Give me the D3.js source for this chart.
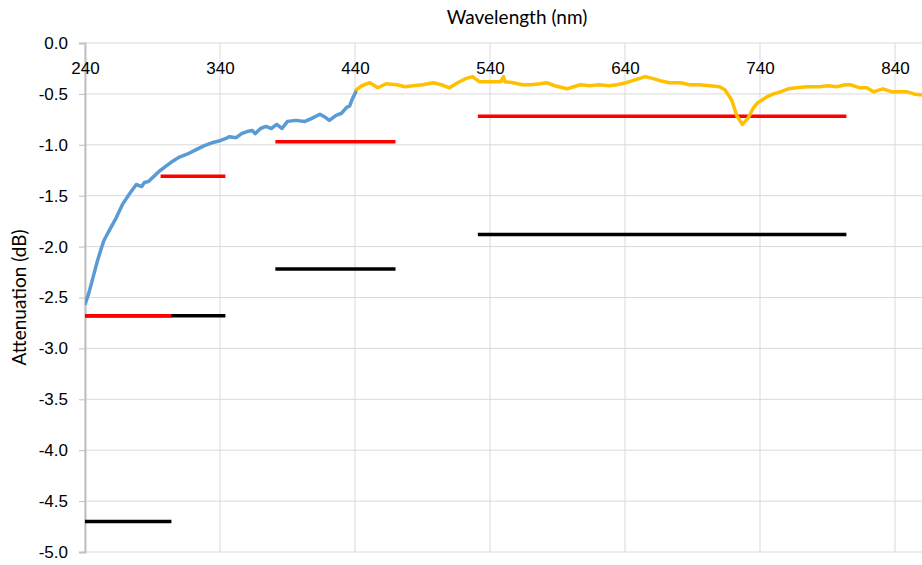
<!DOCTYPE html>
<html>
<head>
<meta charset="utf-8">
<script src="https://cdn.jsdelivr.net/npm/d3@7"></script>
<style>
  body { margin: 0; background: #fff; }
  svg { font-family: Lato, "Open Sans", sans-serif; }
</style>
</head>
<body>
<div id="chart"></div>
<script>
// blue trace (short wavelength)
const blueWave = [240, 243, 246, 249, 252, 254, 258, 263, 268, 273, 278, 282, 284, 287, 291, 295, 300, 304, 310, 316,
  322, 328, 334, 340, 344, 347, 352, 356, 360, 364, 366, 370, 374, 378, 382, 386, 390, 396, 403, 408,
  414, 418, 421, 426, 430, 434, 436, 438, 441];
const blueAtten = [-2.57, -2.45, -2.30, -2.15, -2.02, -1.94, -1.84, -1.72, -1.58, -1.48, -1.39, -1.41, -1.37, -1.36, -1.31, -1.26, -1.21, -1.17, -1.12, -1.09,
  -1.05, -1.01, -0.98, -0.96, -0.94, -0.92, -0.93, -0.89, -0.87, -0.86, -0.89, -0.84, -0.82, -0.84, -0.80, -0.84, -0.77, -0.76, -0.77, -0.74,
  -0.70, -0.73, -0.76, -0.71, -0.69, -0.63, -0.62, -0.55, -0.47];

// orange trace (visible range)
const orangeWave = [440, 445, 451, 457, 463, 471, 477, 483, 490, 498, 504, 510, 516, 522, 527, 532, 540, 548, 550, 551,
  557, 564, 570, 577, 582, 588, 597, 602, 607, 614, 621, 628, 634, 641, 648, 655, 661, 666, 673, 681,
  688, 695, 703, 710, 714, 719, 723, 727, 731, 735, 738, 745, 750, 755, 761, 767, 775, 784, 790, 797,
  803, 807, 814, 819, 824, 831, 838, 843, 849, 854, 860];
const orangeAtten = [-0.47, -0.42, -0.39, -0.44, -0.40, -0.41, -0.43, -0.42, -0.41, -0.39, -0.41, -0.44, -0.39, -0.35, -0.33, -0.38, -0.38, -0.38, -0.33, -0.38,
  -0.39, -0.41, -0.41, -0.40, -0.39, -0.42, -0.45, -0.43, -0.41, -0.42, -0.41, -0.42, -0.41, -0.39, -0.36, -0.33, -0.35, -0.37, -0.39, -0.39,
  -0.41, -0.41, -0.42, -0.43, -0.46, -0.56, -0.72, -0.80, -0.74, -0.64, -0.59, -0.53, -0.50, -0.48, -0.45, -0.44, -0.43, -0.43, -0.42, -0.43,
  -0.41, -0.41, -0.44, -0.44, -0.48, -0.45, -0.48, -0.48, -0.48, -0.50, -0.51];

// band levels: black and red horizontal segments
const blackStart = [240, 240, 381, 531];
const blackEnd   = [344, 304, 470, 804];
const blackLevel = [-2.68, -4.70, -2.22, -1.88];

const redStart = [240, 296, 381, 531];
const redEnd   = [304, 344, 470, 804];
const redLevel = [-2.68, -1.31, -0.97, -0.72];

const xTicks = [240, 340, 440, 540, 640, 740, 840];
const yTicks = [0, -0.5, -1, -1.5, -2, -2.5, -3, -3.5, -4, -4.5, -5];

const W = 922, H = 565;
const margin = { top: 43, right: 0, bottom: 13, left: 85 };
const width = W - margin.left - margin.right;
const height = H - margin.top - margin.bottom;

const svg = d3.select('#chart').append('svg')
  .attr('width', W)
  .attr('height', H);

const g = svg.append('g')
  .attr('transform', `translate(${margin.left},${margin.top})`);

const x = d3.scaleLinear().domain([240, 860]).range([0, width]);
const y = d3.scaleLinear().domain([0, -5]).range([0, height]);

// grid lines
g.append('g').selectAll('line.h')
  .data(yTicks)
  .enter().append('line')
  .attr('x1', 0).attr('x2', width)
  .attr('y1', d => y(d)).attr('y2', d => y(d))
  .attr('stroke', '#d9d9d9').attr('stroke-width', 1);

g.append('g').selectAll('line.v')
  .data(xTicks)
  .enter().append('line')
  .attr('x1', d => x(d)).attr('x2', d => x(d))
  .attr('y1', 0).attr('y2', height)
  .attr('stroke', '#d9d9d9').attr('stroke-width', 1);

// y axis on the left (plain hyphen for minus, like the original)
const yAxis = g.append('g')
  .call(d3.axisLeft(y).tickValues(yTicks).tickFormat(d => d.toFixed(1)).tickSize(6).tickPadding(11));
yAxis.select('.domain').attr('stroke', '#bfbfbf').attr('stroke-width', 2);
yAxis.selectAll('.tick line').attr('stroke', '#bfbfbf');
yAxis.selectAll('text').style('font-size', '17px').attr('fill', '#000');

// x axis along the zero line, labels below it
const xAxis = g.append('g')
  .call(d3.axisBottom(x).tickValues(xTicks).tickSize(0).tickPadding(19));
xAxis.select('.domain').remove();
xAxis.selectAll('text').style('font-size', '17px').attr('fill', '#000');

// clip for traces
svg.append('clipPath').attr('id', 'plotClip')
  .append('rect').attr('width', width).attr('height', height);

const plot = g.append('g').attr('clip-path', 'url(#plotClip)');

const line = d3.line()
  .x(d => x(d[0]))
  .y(d => y(d[1]));

// black levels first, red on top
plot.selectAll('line.black')
  .data(blackLevel)
  .enter().append('line')
  .attr('class', 'black')
  .attr('x1', (d, i) => x(blackStart[i]))
  .attr('x2', (d, i) => x(blackEnd[i]))
  .attr('y1', d => y(d)).attr('y2', d => y(d))
  .attr('stroke', '#000').attr('stroke-width', 3.5);

plot.selectAll('line.red')
  .data(redLevel)
  .enter().append('line')
  .attr('class', 'red')
  .attr('x1', (d, i) => x(redStart[i]))
  .attr('x2', (d, i) => x(redEnd[i]))
  .attr('y1', d => y(d)).attr('y2', d => y(d))
  .attr('stroke', '#ff0000').attr('stroke-width', 3.5);

plot.append('path')
  .datum(d3.zip(orangeWave, orangeAtten))
  .attr('fill', 'none')
  .attr('stroke', '#ffc000')
  .attr('stroke-width', 3.5)
  .attr('stroke-linejoin', 'round')
  .attr('d', line);

plot.append('path')
  .datum(d3.zip(blueWave, blueAtten))
  .attr('fill', 'none')
  .attr('stroke', '#5b9bd5')
  .attr('stroke-width', 3.5)
  .attr('stroke-linejoin', 'round')
  .attr('d', line);

// titles
svg.append('text')
  .attr('x', 517)
  .attr('y', 24)
  .style('text-anchor', 'middle')
  .style('font-size', '19px')
  .text('Wavelength (nm)');

svg.append('text')
  .attr('transform', `translate(26, ${margin.top + height / 2}) rotate(-90)`)
  .style('text-anchor', 'middle')
  .style('font-size', '19px')
  .text('Attenuation (dB)');
</script>
</body>
</html>
